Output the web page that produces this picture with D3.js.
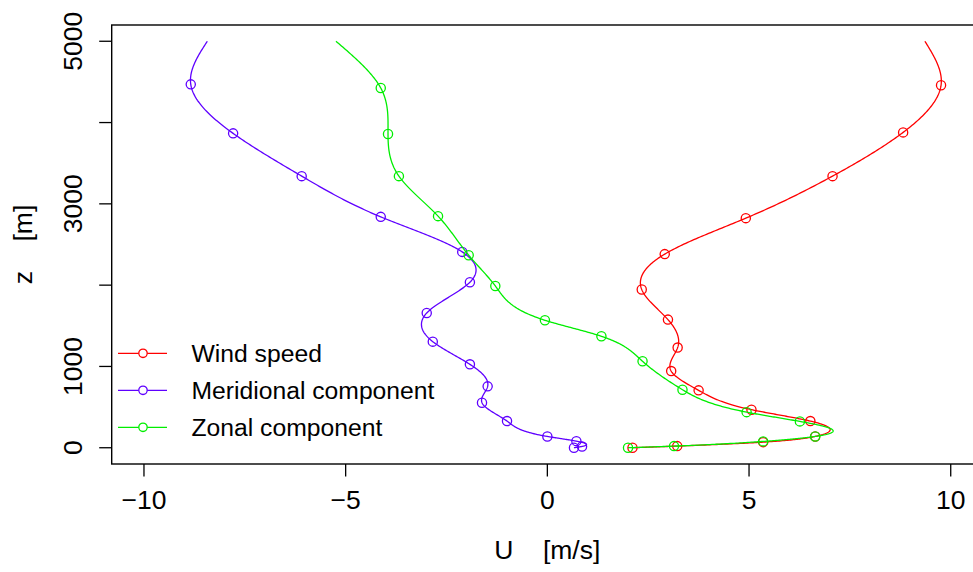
<!DOCTYPE html>
<html>
<head>
<meta charset="utf-8">
<script src="https://cdn.jsdelivr.net/npm/d3@7"></script>
<style>
    body { margin: 0; background: #fff; }
    text { font-family: "Liberation Sans", Arial, sans-serif; fill: #000; }
</style>
</head>
<body>
<div id="chart"></div>
<script>
// Wind profile, values (x in m/s, z in m)
const windX = [9.36, 9.76, 8.82, 7.07, 4.92, 2.91, 2.34, 2.99, 3.23, 3.07, 3.75, 5.06, 6.52, 6.64, 5.35, 3.22, 2.11];
const windZ = [5000, 4458, 3879, 3341, 2824, 2382, 1946, 1576, 1232, 943, 706, 468, 328, 139, 69, 20, 0];

const meridX = [-8.43, -8.84, -7.79, -6.09, -4.13, -2.11, -1.92, -2.99, -2.84, -1.92, -1.48, -1.62, -1.00, 0.00, 0.72, 0.86, 0.66];
const meridZ = [5000, 4470, 3867, 3341, 2840, 2409, 2036, 1658, 1305, 1026, 755, 554, 328, 139, 81, 16, 0];

const zonalX = [-5.24, -4.13, -3.95, -3.68, -2.71, -1.95, -1.29, -0.06, 1.34, 2.36, 3.35, 4.94, 6.26, 6.64, 5.35, 3.14, 2.00];
const zonalZ = [5000, 4425, 3859, 3341, 2849, 2368, 1990, 1568, 1371, 1063, 714, 438, 324, 139, 78, 20, 0];

// first value of each series is only the end of the curve at 5000 m, no point there
const seriesNames = ['Wind speed', 'Meridional component', 'Zonal component'];
const seriesColors = ['#ff0000', '#5f00ff', '#00ee00'];

const xTicks = [-10, -5, 0, 5, 10];
const yTicks = [0, 1000, 2000, 3000, 4000, 5000];
const yTickLabels = ['0', '1000', '', '3000', '', '5000'];

const width = 973;
const height = 572;
const plotLeft = 111.7, plotRight = 983, plotTop = 25, plotBottom = 464;

const svg = d3.select('#chart')
    .append('svg')
    .attr('width', width)
    .attr('height', height);

const x = d3.scaleLinear().domain([-10.8, 10.8]).range([plotLeft, plotRight]);
const y = d3.scaleLinear().domain([-200, 5200]).range([plotBottom, plotTop]);

// natural cubic spline x(z), like R's spline()
function naturalSpline(zs, xs) {
    const idx = d3.range(zs.length).sort((a, b) => zs[a] - zs[b]);
    const t = idx.map(i => zs[i]);
    const v = idx.map(i => xs[i]);
    const n = t.length;
    const h = d3.range(n - 1).map(i => t[i + 1] - t[i]);
    const m = new Array(n).fill(0);
    const a = new Array(n).fill(0), b = new Array(n).fill(0), c = new Array(n).fill(0), r = new Array(n).fill(0);
    b[0] = 1; b[n - 1] = 1;
    for (let i = 1; i < n - 1; i++) {
        a[i] = h[i - 1];
        b[i] = 2 * (h[i - 1] + h[i]);
        c[i] = h[i];
        r[i] = 6 * ((v[i + 1] - v[i]) / h[i] - (v[i] - v[i - 1]) / h[i - 1]);
    }
    for (let i = 1; i < n; i++) {
        const w = a[i] / b[i - 1];
        b[i] -= w * c[i - 1];
        r[i] -= w * r[i - 1];
    }
    m[n - 1] = r[n - 1] / b[n - 1];
    for (let i = n - 2; i >= 0; i--) m[i] = (r[i] - c[i] * m[i + 1]) / b[i];

    const out = [];
    for (let i = 0; i < n - 1; i++) {
        const steps = 40;
        for (let s = 0; s <= steps; s++) {
            const zz = t[i] + h[i] * s / steps;
            const A = (t[i + 1] - zz) / h[i], B = (zz - t[i]) / h[i];
            const xx = A * v[i] + B * v[i + 1] +
                ((A * A * A - A) * m[i] + (B * B * B - B) * m[i + 1]) * h[i] * h[i] / 6;
            out.push([xx, zz]);
        }
    }
    return out;
}

const line = d3.line().x(d => x(d[0])).y(d => y(d[1]));

const series = [[windX, windZ], [meridX, meridZ], [zonalX, zonalZ]];

series.forEach(([xs, zs], k) => {
    svg.append('path')
        .attr('d', line(naturalSpline(zs, xs)))
        .attr('fill', 'none')
        .attr('stroke', seriesColors[k])
        .attr('stroke-width', 1.3);

    svg.selectAll(null)
        .data(d3.range(1, xs.length))
        .enter()
        .append('circle')
        .attr('cx', i => x(xs[i]))
        .attr('cy', i => y(zs[i]))
        .attr('r', 4.6)
        .attr('fill', 'none')
        .attr('stroke', seriesColors[k])
        .attr('stroke-width', 1.3);
});

// box
svg.append('rect')
    .attr('x', plotLeft).attr('y', plotTop)
    .attr('width', plotRight - plotLeft).attr('height', plotBottom - plotTop)
    .attr('fill', 'none')
    .attr('stroke', '#000')
    .attr('stroke-width', 1.4);

// x axis
const xAxis = svg.append('g');
xTicks.forEach(t => {
    xAxis.append('line')
        .attr('x1', x(t)).attr('x2', x(t))
        .attr('y1', plotBottom).attr('y2', plotBottom + 12.5)
        .attr('stroke', '#000').attr('stroke-width', 1.3);
    xAxis.append('text')
        .attr('x', x(t)).attr('y', 509)
        .attr('text-anchor', 'middle')
        .style('font-size', '26.5px')
        .text(t < 0 ? '\u2212' + Math.abs(t) : String(t));
});

// y axis
const yAxis = svg.append('g');
yTicks.forEach((t, i) => {
    yAxis.append('line')
        .attr('x1', plotLeft - 12.5).attr('x2', plotLeft)
        .attr('y1', y(t)).attr('y2', y(t))
        .attr('stroke', '#000').attr('stroke-width', 1.3);
    yAxis.append('text')
        .attr('transform', `translate(82,${y(t)}) rotate(-90)`)
        .attr('text-anchor', 'middle')
        .style('font-size', '26.5px')
        .text(yTickLabels[i]);
});

// axis titles
svg.append('text')
    .attr('x', (plotLeft + plotRight) / 2).attr('y', 559)
    .attr('text-anchor', 'middle')
    .style('font-size', '26.5px')
    .style('white-space', 'pre')
    .text('U    [m/s]');

svg.append('text')
    .attr('transform', `translate(32,${(plotTop + plotBottom) / 2}) rotate(-90)`)
    .attr('text-anchor', 'middle')
    .style('font-size', '26.5px')
    .style('white-space', 'pre')
    .text('z    [m]');

// legend
const legend = svg.append('g');
seriesNames.forEach((name, k) => {
    const ly = 353.3 + k * 37;
    legend.append('line')
        .attr('x1', 118).attr('x2', 167)
        .attr('y1', ly).attr('y2', ly)
        .attr('stroke', seriesColors[k]).attr('stroke-width', 1.3);
    legend.append('circle')
        .attr('cx', 143).attr('cy', ly).attr('r', 4.2)
        .attr('fill', '#fff')
        .attr('stroke', seriesColors[k]).attr('stroke-width', 1.3);
    legend.append('text')
        .attr('x', 191.5).attr('y', ly)
        .attr('dy', '0.36em')
        .style('font-size', '24.7px')
        .text(name);
});
</script>
</body>
</html>
